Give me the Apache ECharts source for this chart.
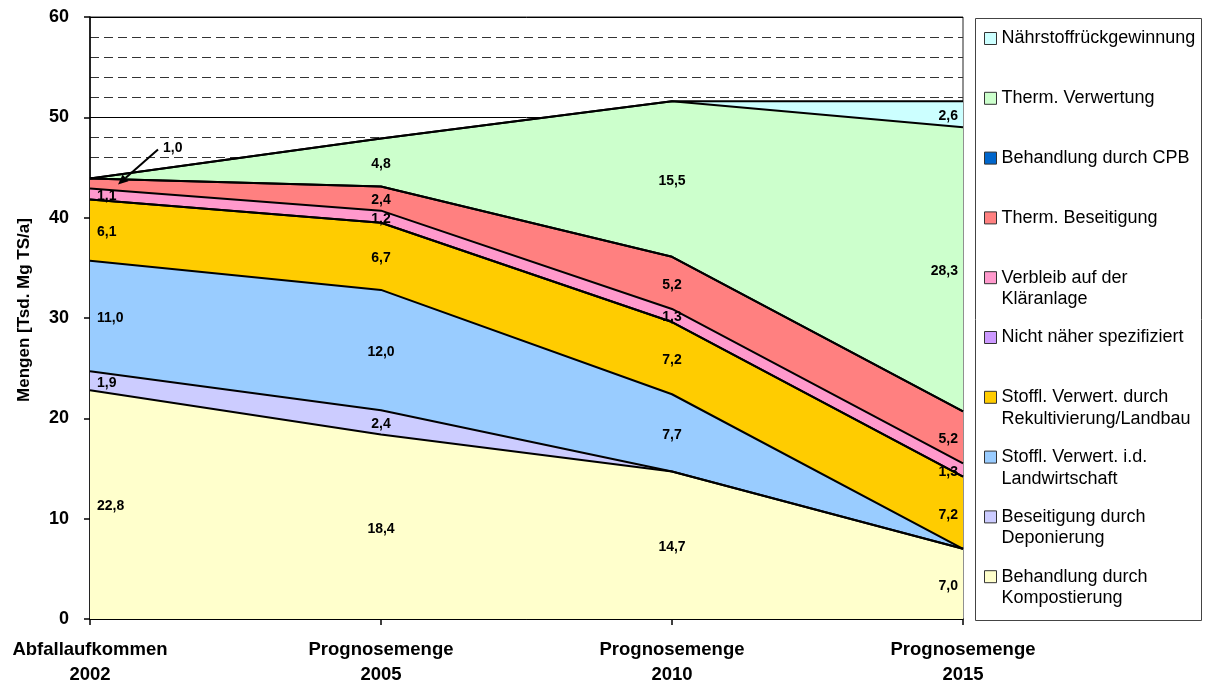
<!DOCTYPE html>
<html>
<head>
<meta charset="utf-8">
<script src="https://cdn.jsdelivr.net/npm/echarts@6/dist/echarts.min.js"></script>
<style>
  html, body { margin: 0; padding: 0; background: #fff; }
  #chart { width: 1206px; height: 682px; }
</style>
</head>
<body>
<div id="chart"></div>
<script>
// Categories along the x axis
const categories = ['Abfallaufkommen\n2002', 'Prognosemenge\n2005', 'Prognosemenge\n2010', 'Prognosemenge\n2015'];

// Quantities in Tsd. Mg TS/a, listed from the bottom of the stack upwards
const kompostierung     = [22.8, 18.4, 14.7, 7.0];
const deponierung       = [1.9, 2.4, 0, 0];
const landwirtschaft    = [11.0, 12.0, 7.7, 0];
const rekultivierung    = [6.1, 6.7, 7.2, 7.2];
const nichtSpezifiziert = [0, 0, 0, 0];
const klaeranlage       = [1.1, 1.2, 1.3, 1.3];
const thermBeseitigung  = [1.0, 2.4, 5.2, 5.2];
const cpb               = [0, 0, 0, 0];
const thermVerwertung   = [0, 4.8, 15.5, 28.3];
const naehrstoff        = [0, 0, 0, 2.6];

const seriesNames = [
  'Behandlung durch Kompostierung',
  'Beseitigung durch Deponierung',
  'Stoffl. Verwert. i.d. Landwirtschaft',
  'Stoffl. Verwert. durch Rekultivierung/Landbau',
  'Nicht näher spezifiziert',
  'Verbleib auf der Kläranlage',
  'Therm. Beseitigung',
  'Behandlung durch CPB',
  'Therm. Verwertung',
  'Nährstoffrückgewinnung'
];
const seriesValues = [
  kompostierung, deponierung, landwirtschaft, rekultivierung, nichtSpezifiziert,
  klaeranlage, thermBeseitigung, cpb, thermVerwertung, naehrstoff
];

// Legend wording with its line breaks
const legendLabels = {
  'Behandlung durch Kompostierung': 'Behandlung durch\nKompostierung',
  'Beseitigung durch Deponierung': 'Beseitigung durch\nDeponierung',
  'Stoffl. Verwert. i.d. Landwirtschaft': 'Stoffl. Verwert. i.d.\nLandwirtschaft',
  'Stoffl. Verwert. durch Rekultivierung/Landbau': 'Stoffl. Verwert. durch\nRekultivierung/Landbau',
  'Verbleib auf der Kläranlage': 'Verbleib auf der\nKläranlage'
};

// Value labels that sit outside their band with a pointer arrow
const arrowLabels = [{ series: 'Therm. Beseitigung', index: 0 }];

const fillColors = [
  '#FFFFCC', '#CCCCFF', '#99CCFF', '#FFCC00', '#CC99FF',
  '#FF99CC', '#FF8080', '#0066CC', '#CCFFCC', '#CCFFFF'
];

const FONT = '"Liberation Sans", Arial, Helvetica, sans-serif';

// Band midpoints for the value labels
const labelData = [];
const running = categories.map(() => 0);
seriesValues.forEach((vals, s) => {
  vals.forEach((v, i) => {
    const base = running[i];
    running[i] += v;
    if (v > 0) {
      const arrow = arrowLabels.some(a => a.series === seriesNames[s] && a.index === i) ? 1 : 0;
      labelData.push([i, base + v / 2, v, arrow]);
    }
  });
});

const areaSeries = seriesNames.map((name, s) => ({
  name,
  type: 'line',
  stack: 'total',
  data: seriesValues[s],
  showSymbol: false,
  symbol: 'none',
  silent: true,
  lineStyle: { color: '#000', width: 2 },
  itemStyle: { color: fillColors[s] },
  areaStyle: { color: fillColors[s], opacity: 1 },
  emphasis: { disabled: true },
  z: 2
}));

const labelSeries = {
  type: 'custom',
  name: 'labels',
  silent: true,
  z: 10,
  data: labelData,
  encode: { x: 0, y: 1 },
  renderItem(params, api) {
    const ci = api.value(0);
    const v = api.value(2);
    const arrow = api.value(3);
    const p = api.coord([ci, api.value(1)]);
    const text = v.toFixed(1).replace('.', ',');
    const font = 'bold 14px ' + FONT;
    if (arrow) {
      const tip = [p[0] + 28, p[1] + 1];
      const tail = [p[0] + 68, p[1] - 34];
      const dx = tip[0] - tail[0], dy = tip[1] - tail[1];
      const len = Math.sqrt(dx * dx + dy * dy);
      const ux = dx / len, uy = dy / len;
      const bx = tip[0] - ux * 10, by = tip[1] - uy * 10;
      const nx = -uy, ny = ux;
      return {
        type: 'group',
        children: [
          { type: 'line', shape: { x1: tail[0], y1: tail[1], x2: bx, y2: by },
            style: { stroke: '#000', lineWidth: 2 } },
          { type: 'polygon', shape: { points: [tip, [bx + nx * 4.5, by + ny * 4.5], [bx - nx * 4.5, by - ny * 4.5]] },
            style: { fill: '#000' } },
          { type: 'text', style: { text, x: tail[0] + 5, y: tail[1] - 1, align: 'left', verticalAlign: 'middle', font, fill: '#000' } }
        ]
      };
    }
    let x = p[0], align = 'center';
    if (ci === 0) { x += 7; align = 'left'; }
    else if (ci === categories.length - 1) { x -= 5; align = 'right'; }
    return {
      type: 'text',
      style: { text, x, y: p[1] + 2, align, verticalAlign: 'middle', font, fill: '#000' }
    };
  }
};

// One legend block per entry; a blank leading line keeps the first text line level with its swatch
const LEGEND_LH = 21.5;
const legendOrder = seriesNames.slice().reverse();
const legends = legendOrder.map((name, i) => {
  const text = legendLabels[name] || name;
  const twoLine = text.indexOf('\n') >= 0;
  const centre = 38.5 + i * 59.8;
  return {
    data: [{ name, itemStyle: { color: fillColors[seriesNames.indexOf(name)] } }],
    left: 984,
    top: twoLine ? centre - 1.5 * LEGEND_LH : centre - LEGEND_LH / 2,
    orient: 'vertical',
    padding: 0,
    icon: 'rect',
    itemWidth: 12,
    itemHeight: 12,
    selectedMode: false,
    itemStyle: { borderColor: '#333', borderWidth: 1 },
    formatter: () => (twoLine ? ' \n' + text : text),
    textStyle: { fontFamily: FONT, fontSize: 18, color: '#000', lineHeight: LEGEND_LH }
  };
});

const chart = echarts.init(document.getElementById('chart'), null, { renderer: 'canvas' });
chart.setOption({
  animation: false,
  backgroundColor: '#fff',
  textStyle: { fontFamily: FONT },
  grid: {
    left: 90, right: 243, top: 17, bottom: 63,
    outerBoundsMode: 'none',
    containLabel: false,
    show: true, borderColor: '#222', borderWidth: 1, backgroundColor: 'transparent'
  },
  legend: legends,
  graphic: [{
    type: 'rect',
    shape: { x: 975.5, y: 18.5, width: 226, height: 602 },
    style: { fill: 'none', stroke: '#444', lineWidth: 1 },
    silent: true
  }],
  xAxis: {
    type: 'category',
    data: categories,
    boundaryGap: false,
    axisLine: { lineStyle: { color: '#000', width: 1.5 } },
    axisTick: { show: true, length: 6, lineStyle: { color: '#000', width: 1.5 } },
    axisLabel: {
      interval: 0, color: '#000', fontWeight: 'bold', fontSize: 18.5,
      lineHeight: 25.5, margin: 18, fontFamily: FONT
    },
    splitLine: { show: false }
  },
  yAxis: {
    type: 'value',
    min: 0, max: 60, interval: 10,
    name: 'Mengen [Tsd. Mg TS/a]',
    nameLocation: 'middle',
    nameGap: 57,
    nameRotate: 90,
    nameTextStyle: {
      color: '#000', fontWeight: 'bold', fontSize: 17, fontFamily: FONT,
      padding: [0, 0, 0, 16]
    },
    axisLine: { show: true, lineStyle: { color: '#000', width: 1.5 } },
    axisTick: { show: true, length: 6, lineStyle: { color: '#000', width: 1.5 } },
    axisLabel: { color: '#000', fontWeight: 'bold', fontSize: 18, margin: 21, fontFamily: FONT },
    splitLine: { show: true, lineStyle: { color: '#000', width: 1 } },
    minorTick: { show: false, splitNumber: 5 },
    minorSplitLine: { show: true, lineStyle: { color: '#333', width: 1, type: [9, 5] } }
  },
  series: areaSeries.concat([labelSeries])
});
</script>
</body>
</html>
